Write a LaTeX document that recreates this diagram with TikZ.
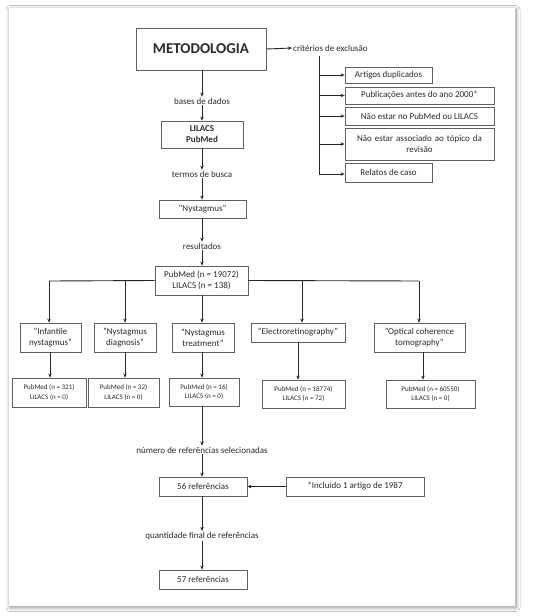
\documentclass[tikz,border=0pt]{standalone}
\usepackage{fontspec}
\setmainfont{Carlito}
\usetikzlibrary{arrows.meta,shadows.blur}
\definecolor{txt}{HTML}{2A2A2A}
\definecolor{bord}{HTML}{606060}
\definecolor{arr}{HTML}{262626}
\begin{document}
\begin{tikzpicture}[x=1pt,y=-1pt,
  box/.style={draw=bord,line width=0.75pt,fill=white,inner sep=1pt,align=center,text=txt,font=\fontsize{9}{11}\selectfont},
  sbox/.style={box,font=\fontsize{7}{9.5}\selectfont},
  lbl/.style={text=txt,inner sep=1pt,font=\fontsize{9}{11}\selectfont},
  conn/.style={draw=arr,line width=0.9pt},
  arrw/.style={conn,-{Stealth[length=4pt,width=3.5pt]}}]
\useasboundingbox (0,0) rectangle (550,616);
\fill[white] (0,0) rectangle (550,616);
\node[draw=none,fill=white,minimum width=506pt,minimum height=598pt,inner sep=0,
  blur shadow={shadow xshift=1pt,shadow yshift=-1.5pt,shadow blur radius=4pt,shadow blur steps=8,shadow opacity=45}] (panel) at (262,307) {};
% top
\node[box,minimum width=130pt,minimum height=42pt,inner sep=0,font=\fontsize{15}{17}\selectfont\bfseries] (meto) at (201,49) {METODOLOGIA};
\node[lbl,anchor=west] (crit) at (292,48) {critérios de exclusão};
\coordinate (vtop) at (319,56);
\coordinate (vbot) at (319,174);
\node[box,minimum width=87pt,minimum height=16pt] (e1) at (388.5,75) {Artigos duplicados};
\node[box,minimum width=149pt,minimum height=17pt] (e2) at (419.5,95.5) {Publicações antes do ano 2000*};
\node[box,minimum width=149pt,minimum height=18pt] (e3) at (419.5,116) {Não estar no PubMed ou LILACS};
\node[box,minimum width=149pt,minimum height=32pt,text width=145pt] (e4) at (419.5,144) {Não estar associado ao tópico da\\ revisão};
\node[box,minimum width=87pt,minimum height=19pt] (e5) at (388.5,172.5) {Relatos de caso};
\draw[arrw] (meto.east) -- (crit.west);
\draw[conn] (vtop) -- (vbot);
\foreach \e in {e1,e2,e3,e4}{\draw[arrw] (vtop |- \e.west) -- (\e.west);}
\draw[arrw] (vbot) -- (vbot -| e5.west);
% main column
\node[lbl] (bases) at (202,101) {bases de dados};
\node[box,minimum width=82pt,minimum height=27pt,font=\fontsize{9}{11}\selectfont\bfseries] (db) at (202,134.5) {LILACS\\PubMed};
\node[lbl] (termos) at (202,174) {termos de busca};
\node[box,minimum width=87pt,minimum height=18pt] (nys) at (202.5,209) {"Nystagmus"};
\node[lbl] (resl) at (202,246) {resultados};
\node[box,minimum width=93pt,minimum height=29pt] (res) at (201.5,280.5) {PubMed (n = 19072)\\LILACS (n = 138)};
\draw[arrw] (meto.south -| 202,0) -- (bases.north);
\draw[arrw] (bases.south) -- (db.north);
\draw[arrw] (db.south) -- (termos.north);
\draw[arrw] (termos.south) -- (nys.north -| 202,0);
\draw[arrw] (nys.south -| 202,0) -- (resl.north);
\draw[arrw] (resl.south) -- (res.north -| 202,0);
% second row
\node[box,minimum width=61pt,minimum height=29pt] (s1) at (50.5,337.5) {"Infantile\\nystagmus"};
\node[box,minimum width=62pt,minimum height=29pt] (s2) at (125,337.5) {"Nystagmus\\diagnosis"};
\node[box,minimum width=62pt,minimum height=29pt] (s3) at (203,337.5) {"Nystagmus\\treatment''};
\node[box,minimum width=94pt,minimum height=19pt] (s4) at (298,332.5) {''Electroretinography"};
\node[box,minimum width=91pt,minimum height=29pt] (s5) at (419.5,337.5) {"Optical coherence\\tomography"};
\coordinate (hl) at (49,281);
\coordinate (hr) at (419,281);
\draw[conn] (res.west) -- (hl);
\draw[conn] (res.east) -- (hr);
\draw[arrw] (hl) -- (hl |- s1.north);
\draw[arrw] (125,281) -- (125,0 |- s2.north);
\draw[arrw] (res.south -| 202,0) -- (202,0 |- s3.north);
\draw[arrw] (302,281) -- (302,0 |- s4.north);
\draw[arrw] (hr) -- (hr |- s5.north);
% third row
\node[sbox,minimum width=74pt,minimum height=29pt] (r1) at (49,392.5) {PubMed (n = 321)\\LILACS (n = 0)};
\node[sbox,minimum width=71pt,minimum height=29pt] (r2) at (123.5,392.5) {PubMed (n = 32)\\LILACS (n = 0)};
\node[sbox,minimum width=70pt,minimum height=28pt] (r3) at (204,392) {PubMed (n = 16)\\LILACS (n = 0)};
\node[sbox,minimum width=83pt,minimum height=28pt] (r4) at (303.5,394) {PubMed (n = 18774)\\LILACS (n = 72)};
\node[sbox,minimum width=89pt,minimum height=28pt] (r5) at (430.5,394) {PubMed (n = 60550)\\LILACS (n = 0)};
\draw[arrw] (50,0 |- s1.south) -- (50,0 |- r1.north);
\draw[arrw] (125,0 |- s2.south) -- (125,0 |- r2.north);
\draw[arrw] (202,0 |- s3.south) -- (202,0 |- r3.north);
\draw[arrw] (298,0 |- s4.south) -- (298,0 |- r4.north);
\draw[arrw] (423,0 |- s5.south) -- (423,0 |- r5.north);
% bottom
\node[lbl] (sel) at (202,450) {número de referências selecionadas};
\node[box,minimum width=88pt,minimum height=19pt] (n56) at (203,486.5) {56 referências};
\node[box,minimum width=138pt,minimum height=19pt] (inc) at (355,486.5) {*Incluído 1 artigo de 1987};
\node[lbl] (fin) at (202,536) {quantidade final de referências};
\node[box,minimum width=88pt,minimum height=19pt] (n57) at (203,579.5) {57 referências};
\draw[arrw] (202,0 |- r3.south) -- (sel.north);
\draw[arrw] (sel.south) -- (202,0 |- n56.north);
\draw[arrw] (inc.west) -- (n56.east);
\draw[arrw] (202,0 |- n56.south) -- (fin.north);
\draw[arrw] (fin.south) -- (202,0 |- n57.north);
\end{tikzpicture}
\end{document}
